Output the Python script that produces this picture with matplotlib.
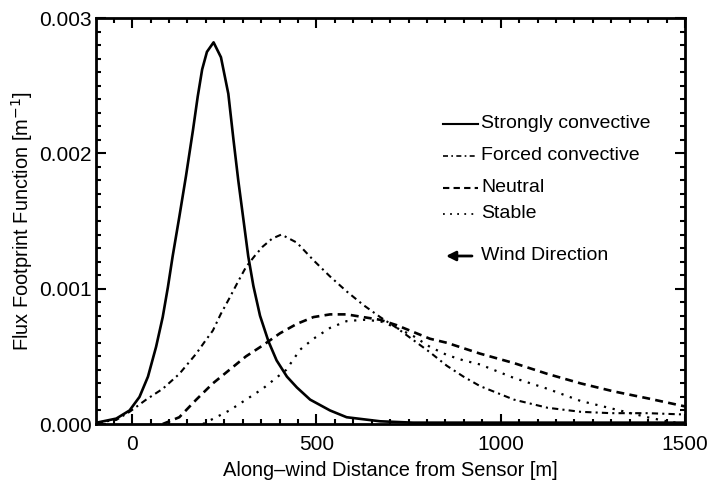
import matplotlib
matplotlib.use("Agg")
import matplotlib.pyplot as plt
from matplotlib.ticker import MultipleLocator

plt.rcParams['font.family'] = ['Liberation Sans', 'DejaVu Sans']

# Strongly convective
x_sc = [-96, -43, -7, 20, 43, 65, 83, 97, 110, 128, 146, 165, 178, 190, 203,
        221, 241, 261, 275, 288, 302, 315, 329, 347, 370, 392, 420, 447, 483,
        537, 582, 673, 762, 900, 1100, 1300, 1500]
y_sc = [0.00001, 0.00004, 0.00010, 0.00020, 0.00035, 0.00057, 0.00079, 0.00101,
        0.00124, 0.00153, 0.00183, 0.00217, 0.00242, 0.00262, 0.00275, 0.00282,
        0.00271, 0.00244, 0.00210, 0.00180, 0.00151, 0.00124, 0.00102, 0.00080,
        0.00061, 0.00047, 0.00035, 0.00027, 0.00018, 0.00010, 0.00005, 0.00002,
        0.00001, 0.00001, 0.00001, 0.00001, 0.00001]

# Forced convective
x_fc = [-96, -43, -7, 38, 83, 128, 174, 200, 219, 240, 264, 287, 309, 332, 354,
        380, 405, 447, 492, 537, 582, 627, 673, 718, 763, 808, 854, 899, 944,
        1036, 1127, 1217, 1300, 1400, 1500]
y_fc = [0.00001, 0.00003, 0.00009, 0.00018, 0.00026, 0.00037, 0.00052, 0.00062,
        0.00069, 0.00081, 0.00093, 0.00105, 0.00116, 0.00124, 0.00131, 0.00137,
        0.00140, 0.00134, 0.00121, 0.00109, 0.00098, 0.00088, 0.00079, 0.00071,
        0.00062, 0.00053, 0.00043, 0.00035, 0.00028, 0.00018, 0.00012, 0.00009,
        0.00008, 0.00008, 0.00007]

# Neutral
x_ne = [83, 128, 174, 219, 264, 309, 354, 401, 447, 492, 537, 582, 627, 673,
        718, 763, 808, 854, 899, 944, 1036, 1127, 1217, 1308, 1398, 1500]
y_ne = [0.0, 0.00005, 0.00018, 0.00030, 0.00040, 0.00050, 0.00058, 0.00067,
        0.00074, 0.00079, 0.00081, 0.00081, 0.00079, 0.00077, 0.00073, 0.00068,
        0.00063, 0.00060, 0.00056, 0.00052, 0.00045, 0.00037, 0.00030, 0.00024,
        0.00019, 0.00013]

# Stable
x_st = [192, 264, 309, 354, 418, 456, 492, 537, 582, 627, 673, 718, 763, 808,
        854, 899, 944, 1036, 1127, 1217, 1308, 1398, 1450, 1500]
y_st = [0.0, 0.00010, 0.00018, 0.00026, 0.00040, 0.00055, 0.00063, 0.00071,
        0.00076, 0.00077, 0.00076, 0.00071, 0.00065, 0.00057, 0.00051, 0.00047,
        0.00044, 0.00034, 0.00026, 0.00017, 0.00011, 0.00005, 0.00002, 0.0]

labels = ["Strongly convective", "Forced convective", "Neutral", "Stable"]
xticks = [0, 500, 1000, 1500]
yticks = [0.000, 0.001, 0.002, 0.003]

fig = plt.figure(figsize=(7.07, 4.82), dpi=100)
ax = fig.add_axes([96/707, 1 - 424/482, (685-96)/707, (424-18)/482])

styles = [
    dict(ls='-', lw=1.9),
    dict(ls=(0, (3, 2, 1, 2)), lw=1.5),
    dict(ls=(0, (3, 2)), lw=1.9),
    dict(ls=(0, (1, 3)), lw=1.6),
]
series = [(x_sc, y_sc), (x_fc, y_fc), (x_ne, y_ne), (x_st, y_st)]
for (xs, ys), st in zip(series, styles):
    ax.plot(xs, ys, color='black', solid_joinstyle='round', **st)

ax.set_xlim(-98, 1500)
ax.set_ylim(0, 0.003)
ax.set_xticks(xticks)
ax.set_yticks(yticks)
ax.set_yticklabels([f"{v:.3f}" for v in yticks])
ax.xaxis.set_minor_locator(MultipleLocator(50))
ax.yaxis.set_minor_locator(MultipleLocator(0.0001))
ax.tick_params(which='both', direction='in', top=True, right=True, width=1.5,
               labelsize=15, colors='black')
ax.tick_params(which='major', length=7)
ax.tick_params(axis='x', which='major', pad=8)
ax.tick_params(axis='y', which='major', pad=3)
ax.tick_params(which='minor', length=3.5)
for s in ax.spines.values():
    s.set_linewidth(2)

ax.set_xlabel("Along\u2013wind Distance from Sensor [m]", fontsize=14.4, labelpad=5)
ax.set_ylabel("Flux Footprint Function [m$^{-1}$]", fontsize=14.4, labelpad=3)

# manual legend (axes coords)
def ax_coords(px, py):
    return ((px - 96) / (685 - 96), (424 - py) / (424 - 18))

leg_y = [124, 156, 188, 214]
for yy, st, lab in zip(leg_y, styles, labels):
    x0, y0 = ax_coords(443, yy)
    x1, _ = ax_coords(478, yy)
    ax.plot([x0, x1], [y0, y0], color='black', transform=ax.transAxes,
            **{**st, 'lw': st['lw'] * 0.8})
    tx, ty = ax_coords(481, yy)
    ax.text(tx, ty, lab, transform=ax.transAxes, fontsize=14, va='center', ha='left')

ax0, ay0 = ax_coords(472, 256)
ax1, _ = ax_coords(446, 256)
ax.annotate("", xy=(ax1, ay0), xytext=(ax0, ay0), xycoords='axes fraction',
            arrowprops=dict(arrowstyle='-|>', color='black', lw=2,
                            mutation_scale=14, shrinkA=0, shrinkB=0))
tx, ty = ax_coords(481, 256)
ax.text(tx, ty, "Wind Direction", transform=ax.transAxes, fontsize=14,
        va='center', ha='left')

fig.savefig("out.png", dpi=100)
